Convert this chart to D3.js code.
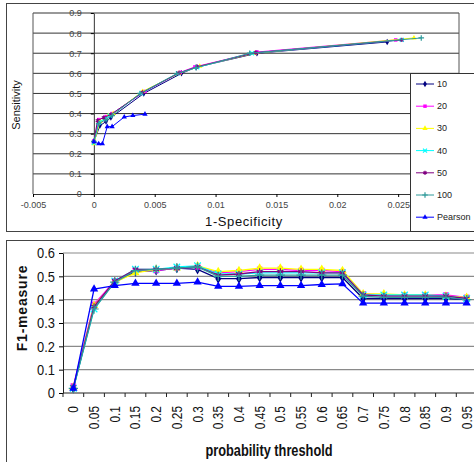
<!DOCTYPE html>
<html>
<head>
<meta charset="utf-8">
<script src="https://cdn.jsdelivr.net/npm/d3@7"></script>
<style>
  body { margin: 0; background: #fff; }
  svg { display: block; }
  .narrow { font-family: "Liberation Sans Narrow", "Arial Narrow", "Liberation Sans", Arial, sans-serif; }
</style>
</head>
<body>
<div id="chart-area"></div>
<script>
// ROC data: [1-specificity, sensitivity]
var seriesNames = ['10', '20', '30', '40', '50', '100', 'Pearson'];
var seriesColors = ['#000080', '#ff00ff', '#ffff00', '#00ffff', '#800080', '#2f9a9a', '#0000ff'];

var roc10 = [[0, 0.26], [0.0005, 0.34], [0.001, 0.36], [0.0014, 0.38], [0.0041, 0.50], [0.0072, 0.60], [0.0084, 0.63], [0.0134, 0.70], [0.0241, 0.756]];
var roc20 = [[0, 0.265], [0.0004, 0.37], [0.001, 0.385], [0.0015, 0.40], [0.0042, 0.51], [0.0071, 0.605], [0.0083, 0.632], [0.0134, 0.706], [0.0248, 0.766]];
var roc30 = [[0, 0.25], [0.0005, 0.36], [0.0012, 0.39], [0.0016, 0.40], [0.004, 0.51], [0.007, 0.60], [0.0087, 0.635], [0.0132, 0.70], [0.0263, 0.776]];
var roc40 = [[0, 0.255], [0.0004, 0.355], [0.0009, 0.375], [0.0013, 0.39], [0.0039, 0.50], [0.0069, 0.60], [0.0085, 0.63], [0.013, 0.70], [0.0253, 0.766]];
var roc50 = [[0, 0.26], [0.0003, 0.365], [0.0008, 0.38], [0.0014, 0.395], [0.004, 0.505], [0.007, 0.602], [0.0085, 0.633], [0.0133, 0.703], [0.0253, 0.766]];
var roc100 = [[0, 0.262], [0.0004, 0.35], [0.001, 0.37], [0.0015, 0.39], [0.0038, 0.50], [0.0068, 0.598], [0.0084, 0.628], [0.0128, 0.70], [0.0269, 0.776]];
var rocPearson = [[0, 0.26], [0.0004, 0.25], [0.0007, 0.25], [0.0011, 0.335], [0.0015, 0.335], [0.0025, 0.383], [0.0032, 0.39], [0.0042, 0.397]];

var rocX = [-0.005, 0, 0.005, 0.01, 0.015, 0.02, 0.025];
var rocY = [0, 0.1, 0.2, 0.3, 0.4, 0.5, 0.6, 0.7, 0.8, 0.9];

// F1 data by probability threshold
var thresholds = ['0', '0.05', '0.1', '0.15', '0.2', '0.25', '0.3', '0.35', '0.4', '0.45', '0.5', '0.55', '0.6', '0.65', '0.7', '0.75', '0.8', '0.85', '0.9', '0.95'];
var f10 = [0.02, 0.37, 0.475, 0.52, 0.525, 0.535, 0.53, 0.49, 0.49, 0.495, 0.495, 0.495, 0.495, 0.495, 0.405, 0.405, 0.405, 0.405, 0.405, 0.40];
var f20 = [0.03, 0.38, 0.48, 0.525, 0.525, 0.535, 0.54, 0.515, 0.52, 0.53, 0.53, 0.525, 0.525, 0.52, 0.425, 0.42, 0.42, 0.42, 0.42, 0.41];
var f30 = [0.025, 0.375, 0.475, 0.515, 0.53, 0.535, 0.545, 0.52, 0.525, 0.535, 0.535, 0.53, 0.53, 0.525, 0.425, 0.425, 0.42, 0.42, 0.415, 0.41];
var f40 = [0.02, 0.36, 0.48, 0.53, 0.53, 0.54, 0.545, 0.51, 0.51, 0.515, 0.515, 0.515, 0.515, 0.515, 0.42, 0.42, 0.42, 0.42, 0.415, 0.405];
var f50 = [0.025, 0.37, 0.48, 0.53, 0.53, 0.535, 0.54, 0.505, 0.51, 0.52, 0.52, 0.52, 0.515, 0.515, 0.42, 0.415, 0.415, 0.415, 0.415, 0.405];
var f100 = [0.02, 0.36, 0.475, 0.525, 0.53, 0.535, 0.54, 0.50, 0.50, 0.505, 0.505, 0.505, 0.505, 0.505, 0.415, 0.41, 0.41, 0.41, 0.41, 0.40];
var fPearson = [0.02, 0.445, 0.46, 0.47, 0.47, 0.47, 0.475, 0.457, 0.457, 0.46, 0.46, 0.46, 0.465, 0.468, 0.385, 0.385, 0.385, 0.385, 0.385, 0.385];
var f1Ticks = [0, 0.1, 0.2, 0.3, 0.4, 0.5, 0.6];

var rocSeries = [roc10, roc20, roc30, roc40, roc50, roc100, rocPearson];
var f1Series = [f10, f20, f30, f40, f50, f100, fPearson];

var symbols = [d3.symbolDiamond, d3.symbolSquare, d3.symbolTriangle, d3.symbolTimes || d3.symbolX, d3.symbolAsterisk, d3.symbolPlus, d3.symbolTriangle];
var strokeSym = [false, false, false, true, true, true, false];

var svg = d3.select('#chart-area').append('svg')
  .attr('width', 474).attr('height', 462);

function marker(g, i, px, py, size) {
  var p = g.append('path')
    .attr('d', d3.symbol().type(symbols[i]).size(size)())
    .attr('transform', 'translate(' + px + ',' + py + ')');
  if (strokeSym[i]) p.attr('fill', 'none').attr('stroke', seriesColors[i]).attr('stroke-width', 1.2);
  else p.attr('fill', seriesColors[i]);
}

// ---------- top chart: ROC ----------
var rocG = svg.append('g');
rocG.append('rect').attr('x', 6.5).attr('y', 3.5).attr('width', 480).attr('height', 228)
  .attr('fill', '#fff').attr('stroke', '#444');

var x1 = d3.scaleLinear().domain([-0.005, 0.03]).range([33, 459]);
var y1 = d3.scaleLinear().domain([0, 0.9]).range([194, 13]);

rocG.selectAll('.grid').data(rocY.slice(1)).enter().append('line')
  .attr('x1', x1(-0.005)).attr('x2', x1(0.03))
  .attr('y1', d => y1(d)).attr('y2', d => y1(d))
  .attr('stroke', '#333').attr('stroke-width', 1);
rocG.append('line').attr('x1', x1(-0.005)).attr('x2', x1(-0.005)).attr('y1', y1(0.9)).attr('y2', y1(0))
  .attr('stroke', '#555');
rocG.append('line').attr('x1', x1(0.03)).attr('x2', x1(0.03)).attr('y1', y1(0.9)).attr('y2', y1(0))
  .attr('stroke', '#555');

var xAxis1 = rocG.append('g').attr('transform', 'translate(0,' + y1(0) + ')')
  .call(d3.axisBottom(x1).tickValues(rocX).tickSize(3).tickSizeOuter(0).tickPadding(5).tickFormat(d => String(d)));
var yAxis1 = rocG.append('g').attr('transform', 'translate(' + x1(0) + ',0)')
  .call(d3.axisLeft(y1).tickValues(rocY).tickSize(3).tickSizeOuter(0).tickPadding(9).tickFormat(d => String(d)));
[xAxis1, yAxis1].forEach(a => {
  a.selectAll('text').attr('font-family', 'Liberation Sans, Arial, sans-serif').attr('font-size', 9).attr('fill', '#444');
  a.select('.domain').attr('stroke', '#333');
});

var line1 = d3.line().x(d => x1(d[0])).y(d => y1(d[1]));
rocSeries.forEach((s, i) => {
  rocG.append('path').datum(s).attr('d', line1)
    .attr('fill', 'none').attr('stroke', seriesColors[i]).attr('stroke-width', 1);
  s.forEach(d => marker(rocG, i, x1(d[0]), y1(d[1]), 12));
});

rocG.append('text').attr('transform', 'translate(20,105) rotate(-90)')
  .attr('text-anchor', 'middle').attr('font-family', 'Liberation Sans, Arial, sans-serif')
  .attr('font-size', 11).attr('fill', '#111').text('Sensitivity');
rocG.append('text').attr('x', 244).attr('y', 226)
  .attr('text-anchor', 'middle').attr('font-family', 'Liberation Sans, Arial, sans-serif')
  .attr('font-size', 13).attr('letter-spacing', 0.6).attr('fill', '#111').text('1-Specificity');

// legend
var leg = rocG.append('g');
leg.append('rect').attr('x', 410.5).attr('y', 73.5).attr('width', 80).attr('height', 158)
  .attr('fill', '#fff').attr('stroke', '#333');
seriesNames.forEach((name, i) => {
  var ly = 84 + i * 22.2;
  leg.append('line').attr('x1', 416).attr('x2', 434).attr('y1', ly).attr('y2', ly)
    .attr('stroke', seriesColors[i]).attr('stroke-width', 1);
  marker(leg, i, 425, ly, 12);
  leg.append('text').attr('x', 437).attr('y', ly + 3)
    .attr('font-family', 'Liberation Sans, Arial, sans-serif').attr('font-size', 9)
    .attr('fill', '#222').text(name);
});

// ---------- bottom chart: F1 ----------
var f1G = svg.append('g');
f1G.append('rect').attr('x', 6.5).attr('y', 240.5).attr('width', 480).attr('height', 240)
  .attr('fill', '#fff').attr('stroke', '#444');

var x2 = d3.scaleBand().domain(thresholds).range([63, 477]);
var y2 = d3.scaleLinear().domain([0, 0.6]).range([393, 253]);
var cx = d => x2(d) + x2.bandwidth() / 2;

f1G.selectAll('.grid').data(f1Ticks.slice(1)).enter().append('line')
  .attr('x1', 63).attr('x2', 477)
  .attr('y1', d => y2(d)).attr('y2', d => y2(d))
  .attr('stroke', '#8a8a8a').attr('stroke-width', 1.2);

var yAxis2 = f1G.append('g').attr('transform', 'translate(63,0)')
  .call(d3.axisLeft(y2).tickValues(f1Ticks).tickSize(4).tickSizeOuter(0)
    .tickFormat(d => d === 0 ? '0' : d3.format('.1f')(d)));
yAxis2.selectAll('text').attr('class', 'narrow').attr('font-size', 15).attr('fill', '#111')
  .attr('x', 0).attr('transform', 'translate(-8,0) scale(0.86,1)');
yAxis2.select('.domain').attr('stroke', '#222');

var xAxis2 = f1G.append('g').attr('transform', 'translate(0,393)');
xAxis2.append('line').attr('x1', 63).attr('x2', 477).attr('stroke', '#222');
xAxis2.selectAll('.tk').data(thresholds).enter().append('line')
  .attr('x1', d => x2(d)).attr('x2', d => x2(d)).attr('y1', 0).attr('y2', 4).attr('stroke', '#222');
xAxis2.selectAll('.lbl').data(thresholds).enter().append('text')
  .attr('class', 'narrow')
  .attr('transform', d => 'translate(' + (cx(d) + 5) + ',13) rotate(-90) scale(0.85,1)')
  .attr('text-anchor', 'end').attr('font-size', 14).attr('fill', '#111')
  .text(d => d);

var line2 = d3.line().x((d, j) => cx(thresholds[j])).y(d => y2(d));
f1Series.forEach((s, i) => {
  f1G.append('path').datum(s).attr('d', line2)
    .attr('fill', 'none').attr('stroke', seriesColors[i]).attr('stroke-width', 1.3);
  s.forEach((v, j) => marker(f1G, i, cx(thresholds[j]), y2(v), 30));
});

f1G.append('text').attr('transform', 'translate(27,308) rotate(-90)')
  .attr('text-anchor', 'middle').attr('font-family', 'Liberation Sans, Arial, sans-serif')
  .attr('font-weight', 'bold').attr('font-size', 14).attr('letter-spacing', 0.8)
  .attr('fill', '#111').text('F1-measure');
f1G.append('text').attr('class', 'narrow')
  .attr('transform', 'translate(269,456) scale(0.8,1)')
  .attr('text-anchor', 'middle').attr('font-weight', 'bold').attr('font-size', 16)
  .attr('fill', '#111').text('probability threshold');
</script>
</body>
</html>
